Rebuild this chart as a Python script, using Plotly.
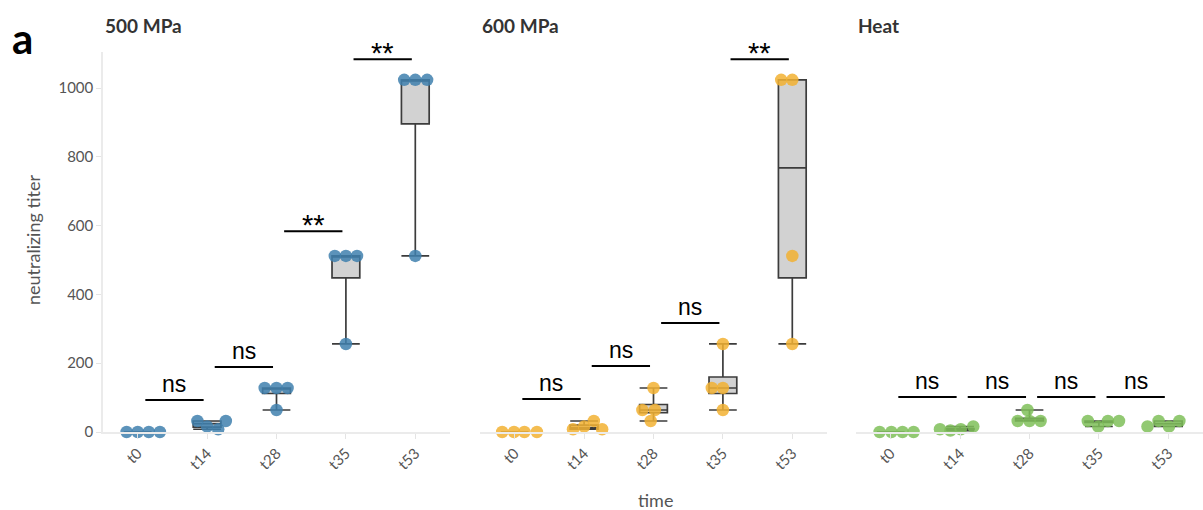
import numpy as np
import plotly.graph_objects as go

# ---- data -------------------------------------------------------------
TIMES = ["t0", "t14", "t28", "t35", "t53"]
PANELS = ["500 MPa", "600 MPa", "Heat"]

TITER_500 = [[0, 0, 0, 0], [32, 16, 8, 32], [128, 128, 128, 64],
             [512, 512, 512, 256], [1024, 1024, 1024, 512]]
TITER_600 = [[0, 0, 0, 0], [8, 16, 32, 8], [64, 128, 64, 32],
             [128, 256, 128, 64], [1024, 1024, 512, 256]]
TITER_HEAT = [[0, 0, 0, 0], [8, 4, 8, 16], [32, 32, 32, 64],
              [32, 16, 32, 32], [16, 32, 16, 32]]

# horizontal spread of the individual animals within a time point
SPREAD_500 = [[-0.16, 0.0, 0.16, 0.32], [-0.14, 0.0, 0.16, 0.27], [-0.17, 0.0, 0.16, 0.0],
              [-0.16, 0.0, 0.16, 0.0], [-0.16, 0.0, 0.17, 0.0]]
SPREAD_600 = [[-0.18, -0.01, 0.14, 0.32], [-0.16, 0.0, 0.14, 0.26], [-0.16, 0.0, 0.02, -0.04],
              [-0.16, 0.0, 0.0, 0.0], [-0.16, 0.0, 0.0, 0.0]]
SPREAD_HEAT = [[-0.16, 0.01, 0.17, 0.33], [-0.29, -0.14, 0.01, 0.19], [-0.17, 0.0, 0.16, -0.03],
               [-0.16, -0.01, 0.13, 0.29], [-0.30, -0.14, 0.01, 0.16]]

# pairwise comparisons between consecutive time points
SIG_500 = ["ns", "ns", "**", "**"]
SIG_600 = ["ns", "ns", "ns", "**"]
SIG_HEAT = ["ns", "ns", "ns", "ns"]
BRACKET_Y_500 = [93, 189, 584, 1084]
BRACKET_Y_600 = [96, 192, 317, 1084]
BRACKET_Y_HEAT = [102, 102, 102, 102]

COLORS = ["#3f80ae", "#f2b232", "#7fbf59"]

# ---- figure -----------------------------------------------------------
panels = [
    (TITER_500, SPREAD_500, SIG_500, BRACKET_Y_500),
    (TITER_600, SPREAD_600, SIG_600, BRACKET_Y_600),
    (TITER_HEAT, SPREAD_HEAT, SIG_HEAT, BRACKET_Y_HEAT),
]

W, H = 1203, 510
ML, MR, MT, MB = 103, 0, 52, 78
PW = W - ML - MR
domains = [(0, 347 / PW), (377 / PW, 724 / PW), (753 / PW, 1.0)]

TEXT_FONT = "Lato"
SIG_FONT = "Liberation Sans"

fig = go.Figure()
shapes = []
annotations = []

for p, (titers, spread, sig, by) in enumerate(panels):
    xa = "x" if p == 0 else f"x{p + 1}"
    pos = list(range(len(TIMES)))
    arr = [np.array(v, dtype=float) for v in titers]
    q1 = [float(np.percentile(a, 25)) for a in arr]
    med = [float(np.percentile(a, 50)) for a in arr]
    q3 = [float(np.percentile(a, 75)) for a in arr]
    lo = [float(a.min()) for a in arr]
    hi = [float(a.max()) for a in arr]

    fig.add_trace(go.Box(
        x=pos, q1=q1, median=med, q3=q3, lowerfence=lo, upperfence=hi,
        width=0.4, whiskerwidth=1, boxpoints=False,
        fillcolor="#d2d2d2", line=dict(color="#3c3c3c", width=1.7),
        xaxis=xa, yaxis="y", showlegend=False, hoverinfo="skip",
    ))

    xs, ys = [], []
    for i, (vals, offs) in enumerate(zip(titers, spread)):
        for v, o in zip(vals, offs):
            xs.append(i + o)
            ys.append(v)
    fig.add_trace(go.Scatter(
        x=xs, y=ys, mode="markers",
        marker=dict(size=12.5, color=COLORS[p], opacity=0.85, line=dict(width=0)),
        xaxis=xa, yaxis="y", showlegend=False, cliponaxis=False,
    ))

    for i, (label, yv) in enumerate(zip(sig, by)):
        x0, x1 = i + 0.11, i + 0.95
        shapes.append(dict(type="line", xref=xa, yref="y", x0=x0, x1=x1, y0=yv, y1=yv,
                           line=dict(color="black", width=2)))
        is_ns = label == "ns"
        annotations.append(dict(
            xref=xa, yref="y", x=(x0 + x1) / 2, y=yv, text=label, showarrow=False,
            xanchor="center", yanchor="bottom",
            yshift=1 if is_ns else -12,
            font=dict(family=SIG_FONT, size=23 if is_ns else 29, color="black"),
        ))

    # panel title
    annotations.append(dict(
        xref=f"{xa} domain", yref="paper", x=0, y=1 + 27 / (H - MT - MB),
        text=f"<b>{PANELS[p]}</b>", showarrow=False, xanchor="left", yanchor="middle",
        font=dict(family=TEXT_FONT, size=19, color="#333333"),
    ))

    fig.update_layout(**{
        ("xaxis" if p == 0 else f"xaxis{p + 1}"): dict(
            domain=list(domains[p]), anchor="y", range=[-0.5, 4.5],
            tickmode="array", tickvals=pos, ticktext=TIMES, tickangle=-45,
            ticks="outside", ticklen=5, tickcolor="#e4e4e4", tickwidth=1.2,
            showline=True, linecolor="#ebebeb", linewidth=1.5,
            showgrid=False, zeroline=False,
            tickfont=dict(family=TEXT_FONT, size=15, color="#555555"),
        )
    })

PH = H - MT - MB
annotations += [
    dict(xref="paper", yref="paper", x=(33 - ML) / PW, y=(432 - 240) / PH,
         text="neutralizing titer", textangle=-90, showarrow=False,
         xanchor="center", yanchor="middle",
         font=dict(family=TEXT_FONT, size=18, color="#555555")),
    dict(xref="paper", yref="paper", x=(655 - ML) / PW, y=(432 - 500) / PH,
         text="time", showarrow=False, xanchor="center", yanchor="middle",
         font=dict(family=TEXT_FONT, size=18, color="#555555")),
    dict(xref="paper", yref="paper", x=(10 - ML) / PW, y=(432 - 38) / PH,
         text="<b>a</b>", showarrow=False, xanchor="left", yanchor="middle",
         font=dict(family=TEXT_FONT, size=42, color="black")),
]

fig.update_layout(
    width=W, height=H,
    margin=dict(l=ML, r=MR, t=MT, b=MB),
    plot_bgcolor="white", paper_bgcolor="white",
    yaxis=dict(
        domain=[0, 1], anchor="x", range=[0, 1105],
        tickmode="array", tickvals=[0, 200, 400, 600, 800, 1000],
        ticks="outside", ticklen=5, tickcolor="#e4e4e4", tickwidth=1.2,
        showline=True, linecolor="#ebebeb", linewidth=1.5,
        showgrid=False, zeroline=False,
        tickfont=dict(family=TEXT_FONT, size=15, color="#555555"),
    ),
    shapes=shapes,
    annotations=annotations,
)

fig.write_html("out.html")
